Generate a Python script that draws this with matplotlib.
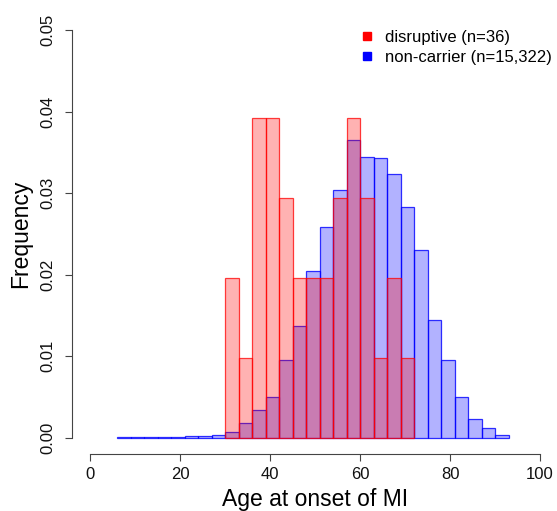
import matplotlib
matplotlib.use("Agg")
import matplotlib.pyplot as plt
import numpy as np
from matplotlib.lines import Line2D

plt.rcParams['font.family'] = ['Liberation Sans', 'DejaVu Sans']

# bins are 3 years wide
bin_width = 3
blue_start = 6
red_start = 30

# non-carrier density per bin (6-9, 9-12, ..., 90-93)
noncarrier = [0.0001, 0.0001, 0.00005, 0.0001, 0.0001, 0.00015, 0.00015, 0.0003,
              0.0007, 0.0018, 0.0034, 0.0050, 0.0095, 0.0137, 0.0205, 0.0259,
              0.0304, 0.0365, 0.0344, 0.0343, 0.0324, 0.0283, 0.0230, 0.0144,
              0.0095, 0.0050, 0.0023, 0.0012, 0.0003]
# disruptive density per bin (30-33, ..., 69-72)
disruptive = [0.0196, 0.0098, 0.0392, 0.0392, 0.0294, 0.0196, 0.0196, 0.0196,
              0.0294, 0.0392, 0.0294, 0.0098, 0.0196, 0.0098]

labels = ['disruptive (n=36)', 'non-carrier (n=15,322)']
xticks = [0, 20, 40, 60, 80, 100]
yticks = [0.00, 0.01, 0.02, 0.03, 0.04, 0.05]

fig = plt.figure(figsize=(5.57, 5.11), dpi=100)
W, H = 557, 511
ax = fig.add_axes([72 / W, (H - 454) / H, (558 - 72) / W, (454 - 13.7) / H])

blue_left = blue_start + bin_width * np.arange(len(noncarrier))
red_left = red_start + bin_width * np.arange(len(disruptive))

ax.bar(blue_left, noncarrier, width=bin_width, align='edge',
       facecolor=(0, 0, 1, 0.3), edgecolor=(0, 0, 1, 0.8), linewidth=0.9)
ax.bar(red_left, disruptive, width=bin_width, align='edge',
       facecolor=(1, 0, 0, 0.3), edgecolor=(1, 0, 0, 0.75), linewidth=0.9)

ax.set_xlim(-4, 104)
ax.set_ylim(-0.002, 0.052)

for s in ['top', 'right']:
    ax.spines[s].set_visible(False)
ax.spines['left'].set_bounds(0, 0.05)
ax.spines['bottom'].set_bounds(0, 100)
for s in ['left', 'bottom']:
    ax.spines[s].set_color('#444444')
    ax.spines[s].set_linewidth(0.8)

ax.set_xticks(xticks)
ax.set_yticks(yticks)
ax.set_yticklabels(['%.2f' % v for v in yticks], rotation=90, va='center')
ax.tick_params(axis='both', direction='out', length=5, width=0.8,
               color='#444444', labelsize=12, labelcolor='#111111')
ax.tick_params(axis='x', pad=4)
ax.tick_params(axis='y', pad=7)

ax.set_xlabel('Age at onset of MI', fontsize=16.5, labelpad=5)
ax.set_ylabel('Frequency', fontsize=16.5, labelpad=6)

handles = [Line2D([], [], marker='s', color='red', ls='', markersize=6),
           Line2D([], [], marker='s', color='blue', ls='', markersize=6)]
ax.legend(handles, labels, loc='upper left', bbox_to_anchor=(350 / W, 1 - 22 / H),
          bbox_transform=fig.transFigure, frameon=False, fontsize=12,
          handlelength=1.0, handletextpad=0.6, labelspacing=0.3, borderpad=0)

fig.savefig('out.png', dpi=100)
